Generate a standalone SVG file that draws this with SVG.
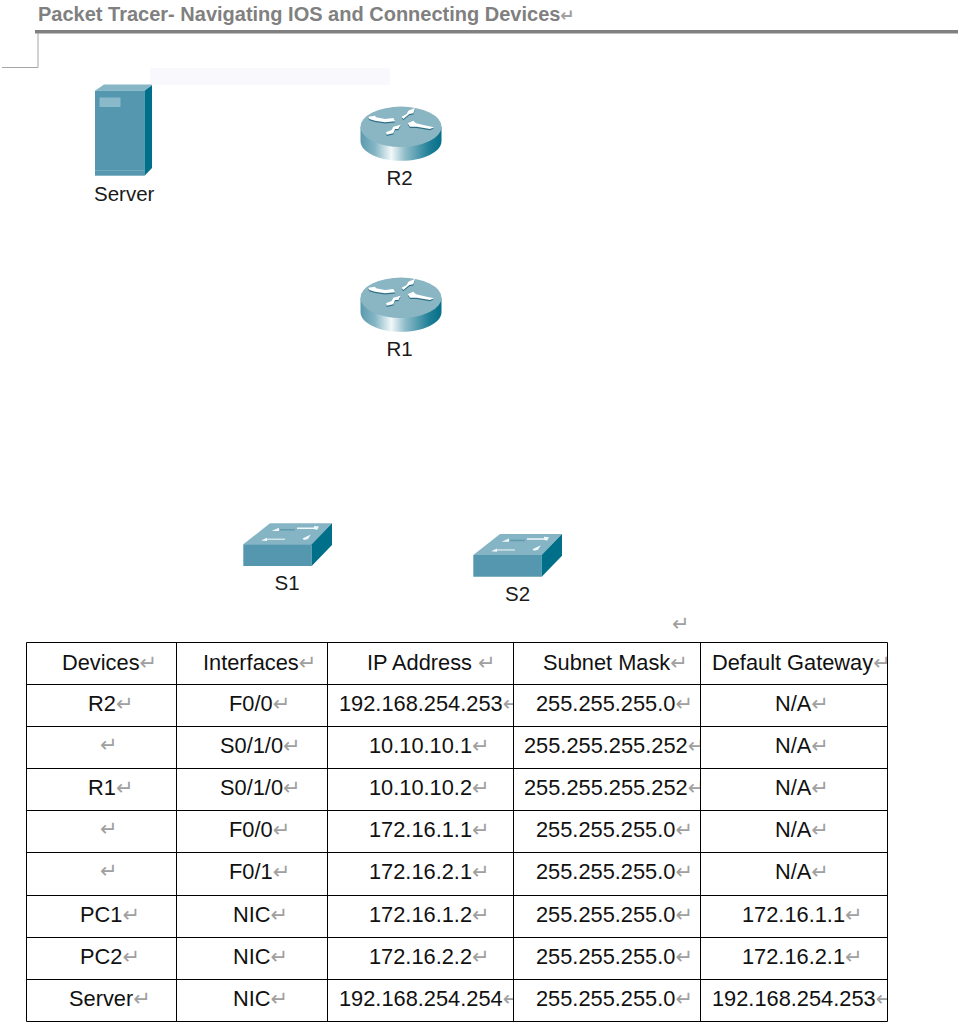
<svg xmlns="http://www.w3.org/2000/svg" xmlns:xlink="http://www.w3.org/1999/xlink" width="958" height="1030" viewBox="0 0 958 1030">
<style>
text{font-family:"Liberation Sans",Arial,sans-serif}
.title{font-size:20px;font-weight:bold;fill:#808080}
.lbl{font-size:20.5px;fill:#1a1a1a}
.c{font-size:21.8px;fill:#111}
.r{font-family:"DejaVu Sans",sans-serif;font-size:21px;fill:#a0a0a0}
.grid{stroke:#000;stroke-width:1;fill:none}
</style>
<defs>
<linearGradient id="cyl" x1="0" x2="1" y1="0" y2="0">
<stop offset="0" stop-color="#5b9aae"/><stop offset=".18" stop-color="#85b6c5"/><stop offset=".38" stop-color="#f2f8f9"/><stop offset=".55" stop-color="#8fbcc9"/><stop offset=".85" stop-color="#1f7f97"/><stop offset="1" stop-color="#066f88"/>
</linearGradient>
<g id="rarrows">
<path d="M368.300 116.700L375 115.700L376 117.300L385 119L393.300 118L395 121.300L385 122.300L375 120.700L369.300 119Z"/>
<path d="M401.700 116.700L406.700 114L408.300 110.700L415 108L413.300 113.300L409.300 114L403.300 119Z"/>
<path d="M407.700 123.300L413.300 120.700L416 123.300L426.700 125.700L434 127.300L430 129L416.700 126.700L410 126.700Z"/>
<path d="M386 132.300L391.700 130L393.300 126.700L400.700 124.700L398.300 129L395 129L393.300 133.300L386.700 134.700Z"/>
</g>
<g id="router">
<path d="M360.500 127V141C360.500 152 378.500 160.800 401 160.800S441.500 152 441.500 141V127Z" fill="url(#cyl)"/>
<ellipse cx="401" cy="126.800" rx="40.500" ry="20.200" fill="#8ab6c4"/>
<use xlink:href="#rarrows" href="#rarrows" y="1.300" fill="#2f6f85"/>
<use xlink:href="#rarrows" href="#rarrows" fill="#fff"/>
</g>
<g id="switch">
<path d="M243.300 544.300L270 523.300H332L311.700 544.300Z" fill="#85b4c4"/>
<path d="M243.300 544.300H311.700V566H243.300Z" fill="#5497ae"/>
<path d="M311.700 544.300L332 523.300V545L311.700 566Z" fill="#006f8a"/>
<path d="M280 529H295V530.500H280Z" fill="#5f9aad"/>
<g fill="#f0f8fa">
<path d="M271.500 531L279 527.800V531Z"/>
<path d="M297 527.500H314L314 526L319 526.500L317 530L314 529H297Z"/>
<path d="M261 540.500L267 537.800V541Z"/>
<path d="M302.500 538.500L310.800 534.500L308 539L304 540Z"/>
</g>
<path d="M267 538.500H285V540H267Z" fill="#cfe3e9"/>
</g>
<clipPath id="col3"><rect x="328" y="642" width="185" height="380"/></clipPath>
<clipPath id="col4"><rect x="514" y="642" width="186" height="380"/></clipPath>
<clipPath id="col5"><rect x="701" y="642" width="186" height="380"/></clipPath>
</defs>
<rect width="958" height="1030" fill="#fff"/>
<g id="header">
<text class="title" x="38" y="21">Packet Tracer- Navigating IOS and Connecting Devices<tspan class="r" style="font-size:17px">↵</tspan></text>
<rect x="35" y="30" width="923" height="3.500" fill="#808080"/>
<path d="M2 67.500H38V33" fill="none" stroke="#a6a6a6" stroke-width="1"/>
<rect x="150" y="68" width="240" height="17" fill="#f8f8fd"/>
</g>
<g id="Server">
<path d="M95 90.700L104 84.500H152L144.500 90.700Z" fill="#87b7c7"/>
<rect x="95" y="90.700" width="49.500" height="85" fill="#5497ae"/>
<path d="M144.500 90.700L152 85V168L144.500 175.700Z" fill="#006f8a"/>
<rect x="99.500" y="97.500" width="21" height="9.500" fill="#8ab9c9"/>
<rect x="95" y="170" width="49.500" height="1" fill="#6ea8bb"/>
<text class="lbl" x="94" y="201">Server</text>
</g>
<g id="R2"><use xlink:href="#router" href="#router"/><text class="lbl" x="386.500" y="185">R2</text></g>
<g id="R1"><use xlink:href="#router" href="#router" y="171"/><text class="lbl" x="386.500" y="356">R1</text></g>
<g id="S1"><use xlink:href="#switch" href="#switch"/><text class="lbl" x="274.500" y="590">S1</text></g>
<g id="S2"><use xlink:href="#switch" href="#switch" x="230" y="10.700"/><text class="lbl" x="505" y="601">S2</text></g>
<text class="r" x="672" y="631">↵</text>
<g id="table">
<path class="grid" d="M26.500 642.500H887.500V1021.500H26.500ZM176.500 642.500V1021.500M327.500 642.500V1021.500M513.500 642.500V1021.500M700.500 642.500V1021.500M26.500 684.500H887.500M26.500 726.500H887.500M26.500 768.500H887.500M26.500 810.500H887.500M26.500 852.500H887.500M26.500 895.500H887.500M26.500 937.500H887.500M26.500 979.500H887.500"/>
<g>
<text class="c" x="62" y="669.500">Devices<tspan class="r">↵</tspan></text>
<text class="c" x="88" y="711">R2<tspan class="r">↵</tspan></text>
<text class="r" x="100" y="752">↵</text>
<text class="c" x="88" y="795">R1<tspan class="r">↵</tspan></text>
<text class="r" x="100" y="836">↵</text>
<text class="r" x="100" y="878">↵</text>
<text class="c" x="80" y="922">PC1<tspan class="r">↵</tspan></text>
<text class="c" x="80" y="964">PC2<tspan class="r">↵</tspan></text>
<text class="c" x="69" y="1006">Server<tspan class="r">↵</tspan></text>
</g>
<g>
<text class="c" x="203" y="669.500">Interfaces<tspan class="r">↵</tspan></text>
<text class="c" x="229" y="711">F0/0<tspan class="r">↵</tspan></text>
<text class="c" x="220" y="753">S0/1/0<tspan class="r">↵</tspan></text>
<text class="c" x="220" y="795">S0/1/0<tspan class="r">↵</tspan></text>
<text class="c" x="229" y="837">F0/0<tspan class="r">↵</tspan></text>
<text class="c" x="229" y="879">F0/1<tspan class="r">↵</tspan></text>
<text class="c" x="233" y="922">NIC<tspan class="r">↵</tspan></text>
<text class="c" x="233" y="964">NIC<tspan class="r">↵</tspan></text>
<text class="c" x="233" y="1006">NIC<tspan class="r">↵</tspan></text>
</g>
<g clip-path="url(#col3)">
<text class="c" x="367" y="669.500">IP Address <tspan class="r">↵</tspan></text>
<text class="c" x="339" y="711">192.168.254.253<tspan class="r">↵</tspan></text>
<text class="c" x="369" y="753">10.10.10.1<tspan class="r">↵</tspan></text>
<text class="c" x="369" y="795">10.10.10.2<tspan class="r">↵</tspan></text>
<text class="c" x="369" y="837">172.16.1.1<tspan class="r">↵</tspan></text>
<text class="c" x="369" y="879">172.16.2.1<tspan class="r">↵</tspan></text>
<text class="c" x="369" y="922">172.16.1.2<tspan class="r">↵</tspan></text>
<text class="c" x="369" y="964">172.16.2.2<tspan class="r">↵</tspan></text>
<text class="c" x="339" y="1006">192.168.254.254<tspan class="r">↵</tspan></text>
</g>
<g clip-path="url(#col4)">
<text class="c" x="543" y="669.500">Subnet Mask<tspan class="r">↵</tspan></text>
<text class="c" x="536" y="711">255.255.255.0<tspan class="r">↵</tspan></text>
<text class="c" x="524" y="753">255.255.255.252<tspan class="r">↵</tspan></text>
<text class="c" x="524" y="795">255.255.255.252<tspan class="r">↵</tspan></text>
<text class="c" x="536" y="837">255.255.255.0<tspan class="r">↵</tspan></text>
<text class="c" x="536" y="879">255.255.255.0<tspan class="r">↵</tspan></text>
<text class="c" x="536" y="922">255.255.255.0<tspan class="r">↵</tspan></text>
<text class="c" x="536" y="964">255.255.255.0<tspan class="r">↵</tspan></text>
<text class="c" x="536" y="1006">255.255.255.0<tspan class="r">↵</tspan></text>
</g>
<g clip-path="url(#col5)">
<text class="c" x="712" y="669.500">Default Gateway<tspan class="r">↵</tspan></text>
<text class="c" x="775" y="711">N/A<tspan class="r">↵</tspan></text>
<text class="c" x="775" y="753">N/A<tspan class="r">↵</tspan></text>
<text class="c" x="775" y="795">N/A<tspan class="r">↵</tspan></text>
<text class="c" x="775" y="837">N/A<tspan class="r">↵</tspan></text>
<text class="c" x="775" y="879">N/A<tspan class="r">↵</tspan></text>
<text class="c" x="742" y="922">172.16.1.1<tspan class="r">↵</tspan></text>
<text class="c" x="742" y="964">172.16.2.1<tspan class="r">↵</tspan></text>
<text class="c" x="712" y="1006">192.168.254.253<tspan class="r">↵</tspan></text>
</g>
</g>
</svg>
